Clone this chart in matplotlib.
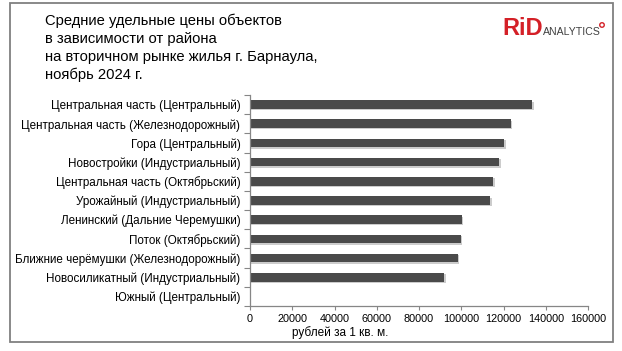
import matplotlib
matplotlib.use("Agg")
import matplotlib.pyplot as plt
import matplotlib.patheffects as pe
import numpy as np

plt.rcParams['font.family'] = ['Liberation Sans', 'DejaVu Sans']

categories = [
    "Центральная часть (Центральный)",
    "Центральная часть (Железнодорожный)",
    "Гора (Центральный)",
    "Новостройки (Индустриальный)",
    "Центральная часть (Октябрьский)",
    "Урожайный (Индустриальный)",
    "Ленинский (Дальние Черемушки)",
    "Поток (Октябрьский)",
    "Ближние черёмушки (Железнодорожный)",
    "Новосиликатный (Индустриальный)",
    "Южный (Центральный)",
]
values = [133600, 123500, 120300, 118000, 115100, 113700, 100400, 99900, 98500, 91900, 0]
xticks = [0, 20000, 40000, 60000, 80000, 100000, 120000, 140000, 160000]
title_lines = ["Средние удельные цены объектов",
               "в зависимости от района",
               "на вторичном рынке жилья г. Барнаула,",
               "ноябрь 2024 г."]
xlabel = "рублей за 1 кв. м."

W, H = 622, 351
fig = plt.figure(figsize=(W / 100, H / 100), dpi=100)
fig.patch.set_facecolor("white")

# outer frame
fig.add_artist(plt.Rectangle((10 / W, 1 - 342 / H), (612.5 - 10) / W, (342 - 3) / H,
                             transform=fig.transFigure, fill=False,
                             edgecolor="#808080", linewidth=1.3))

ax = fig.add_axes([250 / W, 1 - 306 / H, (588 - 250) / W, (306 - 95) / H])
n = len(categories)
y = np.arange(n)
ax.barh(y, values, height=0.45, color="#4a4a4a",
        path_effects=[pe.SimplePatchShadow(offset=(1.0, -1.0), shadow_rgbFace="#c0c0c0", alpha=0.8),
                      pe.Normal()])
ax.set_ylim(n - 0.5, -0.5)
ax.set_xlim(0, 160000)
ax.set_xticks(xticks)
ax.set_xticklabels([str(v) for v in xticks], fontsize=7.8)
ax.set_yticks(np.arange(-0.5, n, 1.0))
ax.set_yticklabels([])
ax.set_yticks(y, minor=True)
ax.set_yticklabels(categories, minor=True, fontsize=8.4)
ax.tick_params(axis="y", which="minor", length=0, pad=7)
ax.tick_params(axis="y", which="major", length=4, color="#868686", direction="out")
ax.tick_params(axis="x", which="major", length=3, color="#868686", pad=3)
for s in ["top", "right"]:
    ax.spines[s].set_visible(False)
for s in ["left", "bottom"]:
    ax.spines[s].set_color("#868686")
    ax.spines[s].set_linewidth(0.9)

fig.text(340 / W, 1 - 333 / H, xlabel, fontsize=8.5, ha="center", va="center")

for i, line in enumerate(title_lines):
    fig.text(45 / W, 1 - (21 + 18 * i) / H, line, fontsize=10.6, ha="left", va="center")

# logo
fig.text(502 / W, 1 - 35 / H, "RiD", fontsize=17, fontweight="bold", color="#d42027",
         ha="left", va="baseline")
fig.text(543 / W, 1 - 35 / H, "ANALYTICS", fontsize=7.6, color="#404040",
         ha="left", va="baseline", family=["Liberation Sans Narrow", "Liberation Sans"])
fig.add_artist(matplotlib.patches.Ellipse((602 / W, 1 - 25 / H), 4.5 / W, 4.5 / H,
                                          transform=fig.transFigure, fill=False,
                                          edgecolor="#d42027", linewidth=1.0))

fig.savefig("out.png", dpi=100, facecolor="white")
